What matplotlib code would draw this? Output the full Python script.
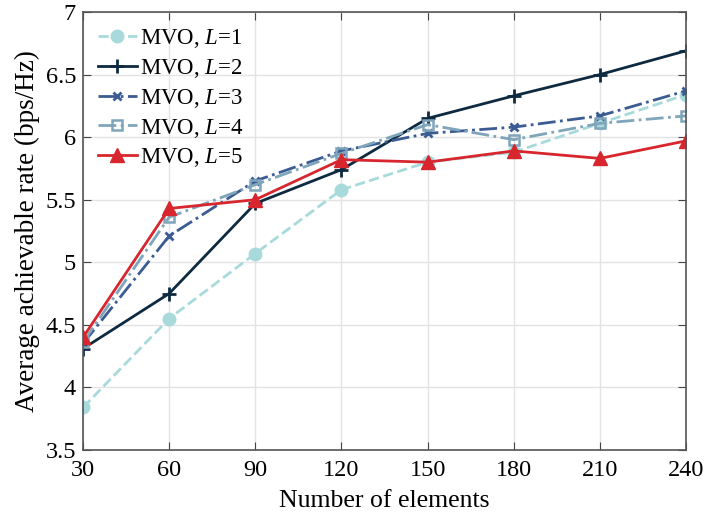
import matplotlib
matplotlib.use("Agg")
import matplotlib.pyplot as plt

plt.rcParams['font.family'] = ['Liberation Serif', 'DejaVu Serif']
plt.rcParams['mathtext.fontset'] = 'custom'
plt.rcParams['mathtext.it'] = 'Liberation Serif:italic'
plt.rcParams['mathtext.rm'] = 'Liberation Serif'

elements = [30, 60, 90, 120, 150, 180, 210, 240]
rate_L1 = [3.84, 4.55, 5.07, 5.58, 5.80, 5.88, 6.11, 6.34]
rate_L2 = [4.31, 4.75, 5.47, 5.74, 6.15, 6.33, 6.50, 6.69]
rate_L3 = [4.35, 5.21, 5.65, 5.89, 6.03, 6.08, 6.17, 6.37]
rate_L4 = [4.36, 5.36, 5.62, 5.87, 6.10, 5.98, 6.11, 6.17]
rate_L5 = [4.40, 5.43, 5.50, 5.82, 5.80, 5.89, 5.83, 5.97]

labels = ["MVO, $L$=1", "MVO, $L$=2", "MVO, $L$=3", "MVO, $L$=4", "MVO, $L$=5"]

fig = plt.figure(figsize=(7.07, 5.22), dpi=100)
ax = fig.add_axes([83 / 707, 72 / 522, 603 / 707, 438 / 522])

ax.plot(elements, rate_L1, linestyle='--', color='#a8dadc', lw=2,
        marker='o', markersize=9, markerfacecolor='#a8dadc', markeredgecolor='#a8dadc',
        label=labels[0])
ax.plot(elements, rate_L2, linestyle='-', color='#0d2a40', lw=2,
        marker='+', markersize=10, markeredgewidth=2, label=labels[1])
ax.plot(elements, rate_L3, linestyle='-.', color='#3b5b93', lw=2,
        marker='x', markersize=6, markeredgewidth=2, label=labels[2])
ax.plot(elements, rate_L4, linestyle='-.', color='#7fa5ba', lw=2,
        marker='s', markersize=7, markerfacecolor='none', markeredgewidth=1.8,
        label=labels[3])
ax.plot(elements, rate_L5, linestyle='-', color='#d7262d', lw=2,
        marker='^', markersize=10, markerfacecolor='#d7262d', markeredgecolor='#d7262d',
        label=labels[4])

ax.set_xlim(30, 240)
ax.set_ylim(3.5, 7)
ax.set_xticks(elements)
ax.set_yticks([3.5, 4, 4.5, 5, 5.5, 6, 6.5, 7])
ax.set_yticklabels(['3.5', '4', '4.5', '5', '5.5', '6', '6.5', '7'])

ax.grid(True, color='#e3e3e3', linewidth=1)
ax.set_axisbelow(True)
ax.tick_params(direction='in', top=True, right=True, labelsize=17.5, length=6,
               color='#444444')
ax.tick_params(axis='x', pad=7)
ax.tick_params(axis='y', pad=5)
for s in ax.spines.values():
    s.set_color('#555555')
    s.set_linewidth(1.2)

ax.set_xlabel('Number of elements', fontsize=18.5, labelpad=7)
ax.set_ylabel('Average achievable rate (bps/Hz)', fontsize=19.5, labelpad=4)

leg = ax.legend(loc='upper left', fontsize=16.5, frameon=False, handlelength=1.7,
                handletextpad=0.15, labelspacing=0.3, borderaxespad=0.35,
                borderpad=0.3)

fig.savefig('out.png', dpi=100)
